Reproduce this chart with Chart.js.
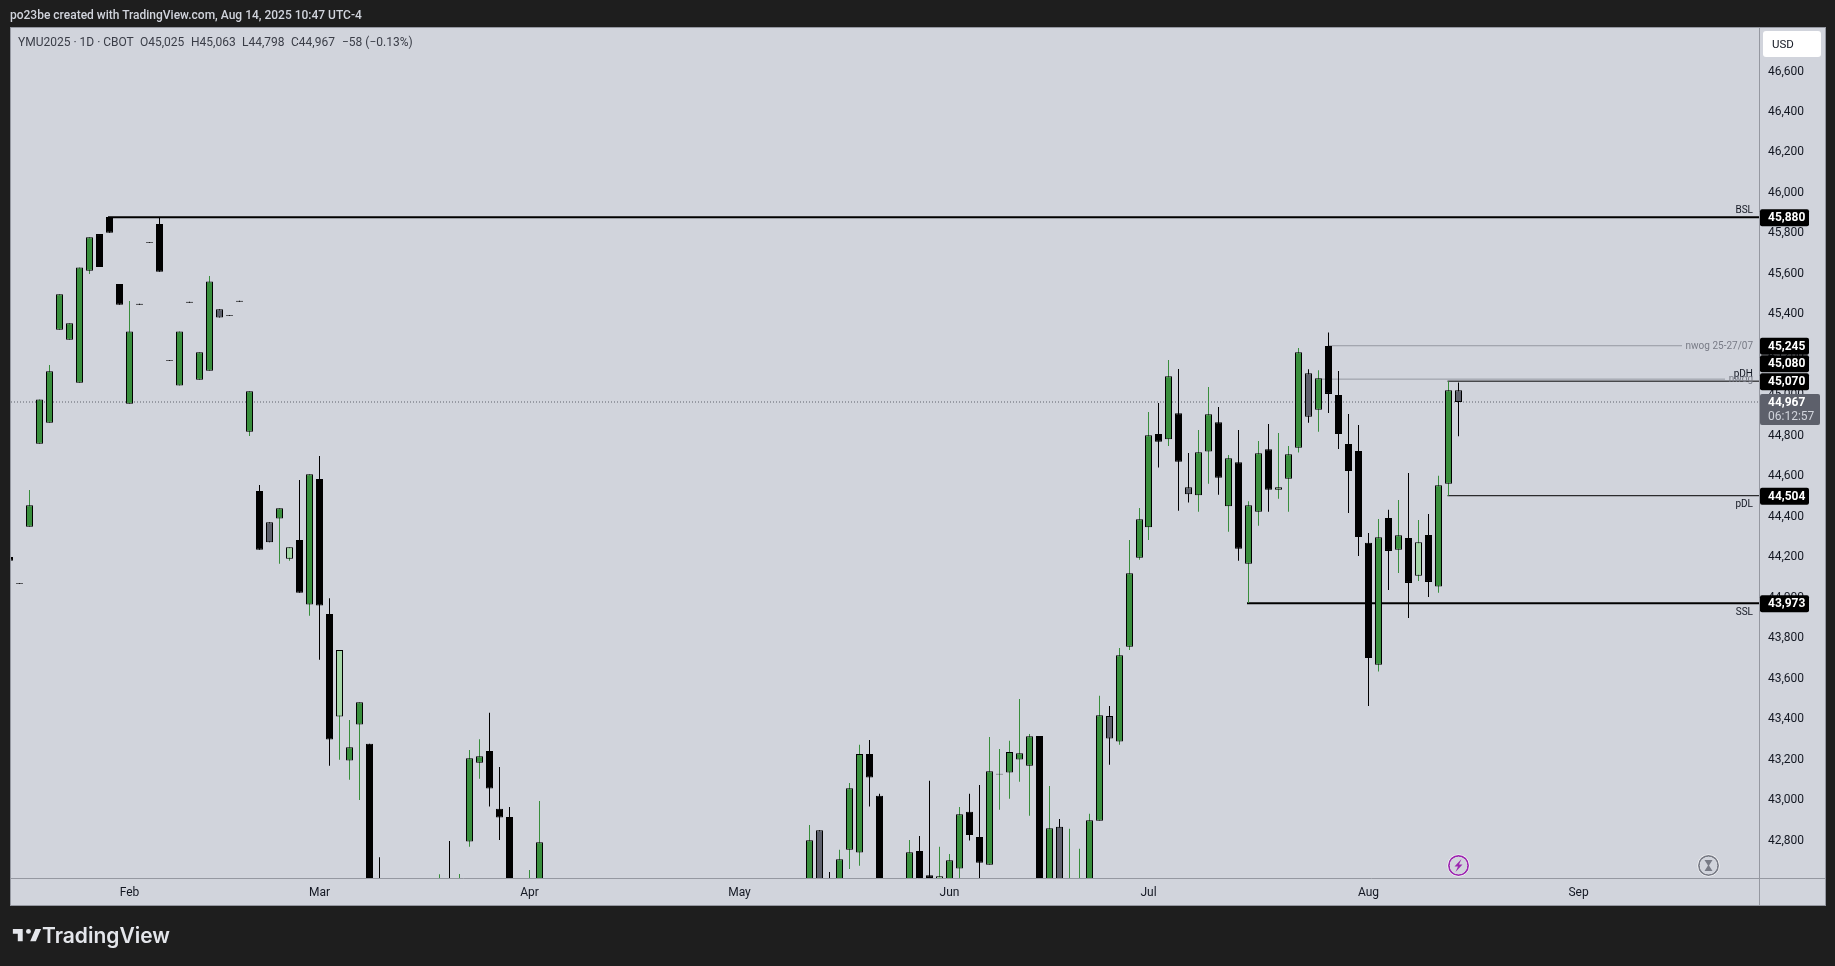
<!DOCTYPE html>
<html>
<head>
<meta charset="utf-8">
<title>YMU2025</title>
<script src="https://cdn.jsdelivr.net/npm/chart.js@4"></script>
<style>
html, body { margin: 0; padding: 0; background: #1e1e1e; overflow: hidden; }
#wrap { position: relative; width: 1835px; height: 966px; font-family: Roboto, sans-serif; }
canvas { position: absolute; left: 0; top: 0; }
.top { position: absolute; left: 10px; top: 8px; font-size: 12px; font-weight: 500; color: #d1d4dc; white-space: nowrap; }
.quote { position: absolute; top: 35px; font-size: 12px; color: #3a3d47; white-space: nowrap; }
.logo { position: absolute; left: 11px; top: 923px; display: flex; align-items: center; }
.logo span { font-family: Inter, sans-serif; font-size: 21px; font-weight: 600; color: #e4e6eb; margin-left: 1px; }
</style>
</head>
<body>
<div id="wrap">
<canvas id="chart" width="1835" height="966"></canvas>
<div class="top">po23be created with TradingView.com, Aug 14, 2025 10:47 UTC-4</div>
<div class="quote" style="left:18px">YMU2025 · 1D · CBOT</div>
<div class="quote" style="left:140px">O45,025</div>
<div class="quote" style="left:191px">H45,063</div>
<div class="quote" style="left:242px">L44,798</div>
<div class="quote" style="left:291px">C44,967</div>
<div class="quote" style="left:342px">−58 (−0.13%)</div>
<div class="logo">
<svg width="30" height="23" viewBox="0 0 36 28"><path fill="#e4e6eb" d="M14 6H2v6h6v9h6V6zm16 15h-6.9l6.4-15h6.9L30 21zm-9-9a3 3 0 1 0 0-6 3 3 0 0 0 0 6z"/></svg>
<span>TradingView</span>
</div>
</div>
<script>
// Daily bars, numbered by session. Only sessions that show in the window are listed,
// values below the visible range are rough guesses (they get clipped anyway).
const barIndex = [0,1,2,3,4,5,6,7,8,9,10,11,12,13,14,15,16,17,18,19,20,21,22,23,24,25,26,27,28,29,30,31,32,33,34,35,36,37,
    43,44,45,46,47,48,49,50,52,53,
    80,81,82,83,84,85,86,87,90,91,92,93,94,95,96,97,98,99,100,101,102,103,104,105,106,107,108,109,110,111,112,113,114,115,116,117,118,119,
    120,121,122,123,124,125,126,127,128,129,130,131,132,133,134,135,136,137,138,139,140,141,142,143,144,145]
const opens = [44201,44073,44351,44761,44865,45324,45275,45062,45616,45797,45881,45550,44959,45452,45758,45846,45175,45048,45462,45077,45122,45425,45397,45467,44820,44527,44373,44391,44193,44285,43966,44587,43920,43413,43195,43373,43278,42560,
    42500,42590,42500,42795,43185,43243,42957,42917,42480,42500,
    42500,42851,42600,42500,42755,42741,43228,43021,42500,42748,42629,42500,42500,42662,42942,42818,42681,43126,43136,43200,43170,43317,42500,42868,42500,42500,42500,42898,43415,43289,43758,44198,44348,44809,44783,44911,44546,44506,
    44723,44867,44452,44669,44168,44425,44734,44534,44588,44741,45109,44929,45244,45002,44760,44725,44271,43669,44394,44237,44295,44109,44310,44055,44563,45025]
const highs = [44201,44073,44532,44980,45150,45499,45356,45632,45781,45797,45881,45550,45466,45452,45758,45876,45175,45316,45462,45213,45590,45425,45397,45467,45020,44557,44373,44442,44249,44582,44610,44700,43997,43741,43396,43484,43278,42718,
    42634,42798,42635,43248,43301,43431,43164,42966,42654,42995,
    42877,42851,42645,42754,43085,43273,43297,43031,42803,42823,43095,42769,42734,42966,43031,43075,43312,43253,43293,43500,43327,43317,43070,42907,42858,42759,42932,43515,43465,43752,44285,44443,44918,44962,45175,45130,44715,44829,
    45041,44942,44705,44829,44477,44774,44858,44814,44750,45234,45129,45124,45311,45120,44908,44853,44320,44389,44434,44483,44616,44384,44414,44602,45070,45063]
const lows = [44182,44069,44351,44761,44865,45324,45275,45062,45599,45634,45803,45448,44959,45448,45754,45611,45171,45048,45458,45077,45122,45384,45393,45463,44799,44237,44274,44168,44183,44025,43911,43693,43170,43199,43100,43001,42500,42450,
    42450,42450,42450,42770,43105,42968,42803,42500,42450,42450,
    42450,42500,42450,42450,42660,42675,42968,42500,42450,42500,42450,42450,42450,42500,42800,42500,42681,42952,43006,43090,42922,42500,42450,42500,42450,42450,42450,42898,43174,43274,43742,44187,44285,44643,44750,44430,44470,44425,
    44563,44509,44326,44183,43974,44356,44425,44489,44425,44717,44865,44820,44913,44735,44419,44206,43465,43635,44038,44122,43900,44083,44004,44024,44504,44798]
const closes = [44182,44069,44457,44980,45119,45499,45356,45632,45781,45634,45803,45448,45316,45448,45754,45611,45171,45316,45458,45213,45563,45384,45393,45463,45020,44237,44274,44442,44249,44025,44610,43961,43299,43741,43261,43484,42500,42500,
    42590,42500,42590,43207,43217,43057,42914,42500,42590,42792,
    42802,42500,42500,42708,43059,43228,43111,42500,42742,42500,42500,42624,42703,42930,42828,42690,43143,43130,43237,43232,43316,42500,42861,42500,42600,42590,42900,43419,43304,43716,44121,44388,44803,44771,45094,44672,44511,44719,
    44906,44593,44689,44242,44457,44714,44534,44546,44709,45213,44894,45084,45007,44809,44626,44300,43702,44299,44231,44309,44073,44274,44078,44556,45025,44967]
// sessions the screenshot paints in its muted colours
const grayBars = [21,26,81,105,110,118,130,145]
const paleBars = [28,33,93,127,141]

const priceTicks = [46600,46400,46200,46000,45800,45600,45400,45200,45000,44800,44600,44400,44200,44000,43800,43600,43400,43200,43000,42800]
const monthTicks = [12,31,52,73,94,114,136,157]
const monthLabels = ['Feb','Mar','Apr','May','Jun','Jul','Aug','Sep']

// Drawn levels: price, first bar, last bar
const levelPrices = [45880,43973,45070,44504,45245,45080]
const levelStarts = [9.85,123.75,143.8,143.8,131.9,130.9]
const levelEnds = [174.95,174.95,174.95,174.95,167.25,171.55]
const levelWeights = [2,2,1,1,1,1]
const levelColours = ['#000000','#000000','#000000','#000000','#9598a1','#9598a1']

const lastPrice = 44967
const countdown = '06:12:57'
const tagPrices = [45880,45245,45080,45070,44504,43973]

const GREEN = '#388e3c', PALE = '#a5d6a7', GRAY = '#5d606b', BLACK = '#000000'
const xMin = 0.15, xMax = 174.95
const yMin = 42615, yMax = 46820

/**
 * Bars sit on whole pixels, one step is dropped around July.
 * @param {Number} k
 */
function barX (k) {
    return k < 114 ? k : k - 0.1
}

function isUp (i) {
    return closes[i] > opens[i]
}

let wicks = barIndex.map((k, i) => ({ x: barX(k), y: [lows[i], highs[i]] })),
    bodies = barIndex.map((k, i) => ({ x: barX(k), y: [opens[i], closes[i]] })),
    wickColours = barIndex.map((k, i) => isUp(i) ? GREEN : BLACK),
    bodyColours = barIndex.map((k, i) => {
        if (grayBars.includes(k)) return GRAY
        if (paleBars.includes(k)) return PALE
        return isUp(i) ? GREEN : BLACK
    })

let datasets = [
    { type: 'bar', data: bodies, backgroundColor: bodyColours, borderColor: BLACK, borderWidth: 1, borderSkipped: false, inflateAmount: 0, barThickness: 7, grouped: false, order: 1, clip: 0 },
    { type: 'bar', data: wicks, backgroundColor: wickColours, borderWidth: 0, inflateAmount: 0, barThickness: 1, grouped: false, order: 2, clip: 0 },
    { type: 'line', data: [{ x: xMin, y: lastPrice }, { x: xMax, y: lastPrice }], borderColor: GRAY, borderWidth: 1, borderDash: [1, 2], pointRadius: 0, order: 4 }
]
levelPrices.forEach((price, i) => {
    datasets.push({
        type: 'line',
        data: [{ x: levelStarts[i], y: price }, { x: levelEnds[i], y: price }],
        borderColor: levelColours[i],
        borderWidth: levelWeights[i],
        pointRadius: 0,
        order: 3
    })
})

function money (v) {
    return v.toLocaleString('en-US')
}

// Panel, frame, price tags, level names and the two small icons
const screenshotParts = {
    id: 'screenshotParts',
    beforeDraw (chart) {
        let ctx = chart.ctx
        ctx.save()
        ctx.fillStyle = '#1e1e1e'
        ctx.fillRect(0, 0, 1835, 966)
        ctx.fillStyle = '#d1d4dc'
        ctx.fillRect(10, 27, 1815, 878)
        ctx.restore()
    },
    afterDraw (chart) {
        let ctx = chart.ctx, y = chart.scales.y, area = chart.chartArea
        ctx.save()

        // frame
        ctx.strokeStyle = '#9598a1'
        ctx.lineWidth = 1
        ctx.strokeRect(10.5, 27.5, 1815, 878)
        ctx.beginPath()
        ctx.moveTo(area.right + 0.5, 27)
        ctx.lineTo(area.right + 0.5, 905)
        ctx.moveTo(10, area.bottom + 0.5)
        ctx.lineTo(1825, area.bottom + 0.5)
        ctx.stroke()

        // level names
        ctx.textAlign = 'right'
        ctx.textBaseline = 'middle'
        ctx.font = '10px Roboto'
        ctx.fillStyle = '#131722'
        ctx.fillText('BSL', 1753, y.getPixelForValue(45880) - 7)
        ctx.fillText('pDH', 1753, y.getPixelForValue(45070) - 7)
        ctx.fillText('pDL', 1753, y.getPixelForValue(44504) + 9)
        ctx.fillText('SSL', 1753, y.getPixelForValue(43973) + 9)
        ctx.fillStyle = '#787b86'
        ctx.fillText('nwog 25-27/07', 1753, y.getPixelForValue(45245) + 1)
        ctx.fillText('nwog', 1753, y.getPixelForValue(45080))

        // price tags, 45,080 is pushed up by the tag below it
        ctx.textAlign = 'left'
        tagPrices.forEach((price) => {
            let py = y.getPixelForValue(price) + (price === 45080 ? -15.5 : 0.5)
            ctx.fillStyle = BLACK
            ctx.beginPath()
            ctx.roundRect(1760, py - 8.5, 49, 17, 2)
            ctx.fill()
            ctx.fillStyle = '#ffffff'
            ctx.font = 'bold 12px Roboto'
            ctx.fillText(money(price), 1768, py + 0.5)
        })

        // last price with countdown
        ctx.fillStyle = GRAY
        ctx.beginPath()
        ctx.roundRect(1760, 394, 60, 31, 2)
        ctx.fill()
        ctx.fillStyle = '#ffffff'
        ctx.font = 'bold 12px Roboto'
        ctx.fillText(money(lastPrice), 1768, 402.5)
        ctx.fillStyle = '#d1d4dc'
        ctx.font = '12px Roboto'
        ctx.fillText(countdown, 1768, 416.5)

        // currency button
        ctx.fillStyle = '#ffffff'
        ctx.beginPath()
        ctx.roundRect(1763, 31, 58, 26, 3)
        ctx.fill()
        ctx.fillStyle = '#131722'
        ctx.font = '11.5px Roboto'
        ctx.fillText('USD', 1772, 45)

        // event icons on the time axis
        drawIcon(ctx, 1458.5, 865.5, '#9c27b0')
        ctx.fillStyle = '#9c27b0'
        ctx.beginPath()
        ctx.moveTo(1461.5, 859)
        ctx.lineTo(1454.5, 866.5)
        ctx.lineTo(1458, 866.5)
        ctx.lineTo(1455.5, 872)
        ctx.lineTo(1462.5, 864.5)
        ctx.lineTo(1459, 864.5)
        ctx.closePath()
        ctx.fill()

        drawIcon(ctx, 1708.5, 865.5, '#787b86')
        ctx.fillStyle = '#787b86'
        ctx.beginPath()
        ctx.moveTo(1704.5, 860)
        ctx.lineTo(1712.5, 860)
        ctx.lineTo(1709, 865.5)
        ctx.lineTo(1712.5, 871)
        ctx.lineTo(1704.5, 871)
        ctx.lineTo(1708, 865.5)
        ctx.closePath()
        ctx.fill()

        ctx.restore()
    }
}

function drawIcon (ctx, cx, cy, colour) {
    ctx.fillStyle = '#ffffff'
    ctx.beginPath()
    ctx.arc(cx, cy, 11, 0, Math.PI * 2)
    ctx.fill()
    ctx.strokeStyle = colour
    ctx.lineWidth = 1.8
    ctx.beginPath()
    ctx.arc(cx, cy, 9.6, 0, Math.PI * 2)
    ctx.stroke()
    ctx.fillStyle = '#d1d4dc'
    ctx.beginPath()
    ctx.arc(cx, cy, 8.7, 0, Math.PI * 2)
    ctx.fill()
}

new Chart(document.getElementById('chart').getContext('2d'), {
    data: { datasets: datasets },
    plugins: [screenshotParts],
    options: {
        responsive: false,
        devicePixelRatio: 1,
        animation: false,
        events: [],
        layout: { padding: { left: 11, top: 27, right: 10, bottom: 61 } },
        plugins: { legend: { display: false }, tooltip: { enabled: false }, title: { display: false } },
        scales: {
            x: {
                type: 'linear',
                min: xMin,
                max: xMax,
                offset: false,
                grid: { display: false, drawTicks: false },
                border: { display: false },
                afterFit: (scale) => { scale.height = 27 },
                afterBuildTicks: (scale) => { scale.ticks = monthTicks.map((k) => ({ value: barX(k) })) },
                ticks: {
                    autoSkip: false,
                    maxRotation: 0,
                    padding: 8,
                    color: '#131722',
                    font: { family: 'Roboto', size: 12 },
                    callback: (v, i) => monthLabels[i]
                }
            },
            y: {
                type: 'linear',
                position: 'right',
                min: yMin,
                max: yMax,
                grid: { display: false, drawTicks: false },
                border: { display: false },
                afterFit: (scale) => { scale.width = 66 },
                afterBuildTicks: (scale) => { scale.ticks = priceTicks.map((v) => ({ value: v })) },
                ticks: {
                    padding: 9,
                    color: '#131722',
                    font: { family: 'Roboto', size: 12 },
                    callback: (v) => money(v)
                }
            }
        }
    }
})
</script>
</body>
</html>
